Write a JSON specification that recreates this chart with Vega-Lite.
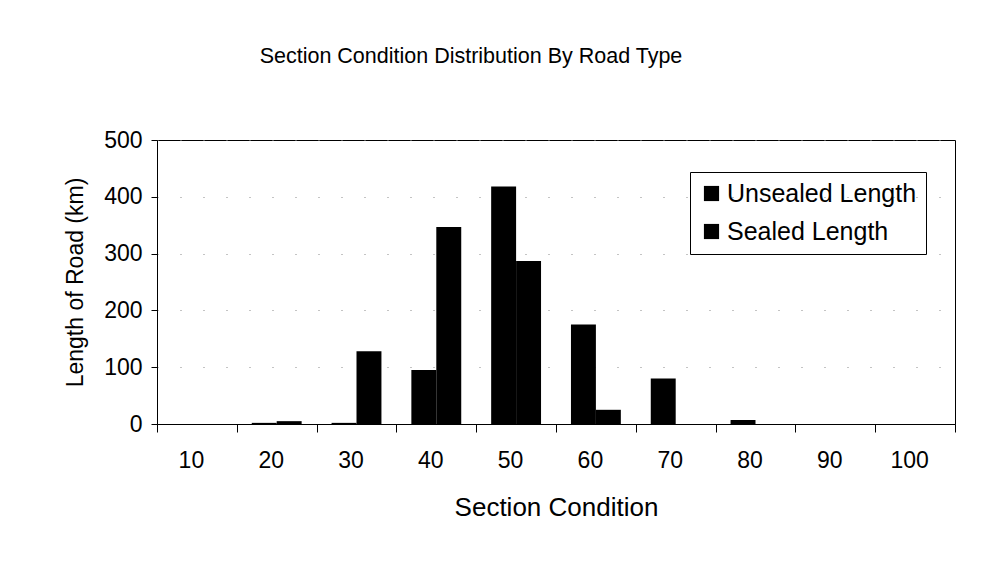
{
  "$schema": "https://vega.github.io/schema/vega-lite/v6.json",
  "width": 798,
  "height": 284,
  "autosize": {"type": "none"},
  "padding": {"left": 157, "top": 140, "right": 34, "bottom": 145},
  "background": "white",
  "title": {
    "text": "Section Condition Distribution By Road Type",
    "font": "Liberation Sans",
    "fontSize": 21.5,
    "fontWeight": "normal",
    "color": "black",
    "anchor": "middle",
    "dx": -85,
    "offset": 62
  },
  "data": {
    "values": [
      {"cond": "10", "type": "Unsealed Length", "len": 0},
      {"cond": "10", "type": "Sealed Length", "len": 0},
      {"cond": "20", "type": "Unsealed Length", "len": 2},
      {"cond": "20", "type": "Sealed Length", "len": 5},
      {"cond": "30", "type": "Unsealed Length", "len": 2},
      {"cond": "30", "type": "Sealed Length", "len": 128},
      {"cond": "40", "type": "Unsealed Length", "len": 95},
      {"cond": "40", "type": "Sealed Length", "len": 347},
      {"cond": "50", "type": "Unsealed Length", "len": 418},
      {"cond": "50", "type": "Sealed Length", "len": 287},
      {"cond": "60", "type": "Unsealed Length", "len": 175},
      {"cond": "60", "type": "Sealed Length", "len": 25},
      {"cond": "70", "type": "Unsealed Length", "len": 80},
      {"cond": "70", "type": "Sealed Length", "len": 0},
      {"cond": "80", "type": "Unsealed Length", "len": 7},
      {"cond": "80", "type": "Sealed Length", "len": 0},
      {"cond": "90", "type": "Unsealed Length", "len": 0},
      {"cond": "90", "type": "Sealed Length", "len": 0},
      {"cond": "100", "type": "Unsealed Length", "len": 0},
      {"cond": "100", "type": "Sealed Length", "len": 0}
    ]
  },
  "mark": {"type": "bar", "color": "black"},
  "encoding": {
    "x": {
      "field": "cond",
      "type": "nominal",
      "sort": null,
      "scale": {"paddingInner": 0, "paddingOuter": 0},
      "axis": {
        "title": "Section Condition",
        "titleFontSize": 26,
        "labelFontSize": 23,
        "labelAngle": 0,
        "labelOffset": -6,
        "tickBand": "extent",
        "tickSize": 8,
        "labelPadding": 17,
        "titlePadding": 22,
        "domainColor": "black",
        "tickColor": "black"
      }
    },
    "xOffset": {
      "field": "type",
      "sort": ["Unsealed Length", "Sealed Length"],
      "scale": {"paddingInner": 0, "paddingOuter": 0.6}
    },
    "y": {
      "field": "len",
      "type": "quantitative",
      "scale": {"domain": [0, 500]},
      "axis": {
        "title": "Length of Road (km)",
        "titleFontSize": 23,
        "labelFontSize": 23,
        "values": [0, 100, 200, 300, 400, 500],
        "tickSize": 6,
        "labelPadding": 9,
        "titlePadding": 16,
        "grid": true,
        "gridDash": [1, 22],
        "gridColor": "#888888",
        "domainColor": "black",
        "tickColor": "black"
      }
    },
    "color": {
      "field": "type",
      "type": "nominal",
      "sort": ["Unsealed Length", "Sealed Length"],
      "scale": {"range": ["black", "black"]},
      "legend": {
        "title": null,
        "orient": "none",
        "legendX": 533,
        "legendY": 32,
        "symbolType": "square",
        "symbolSize": 230,
        "symbolStrokeWidth": 0,
        "labelFontSize": 25,
        "labelLimit": 400,
        "labelFont": "Liberation Sans",
        "labelColor": "black",
        "strokeColor": "black",
        "padding": 9,
        "rowPadding": 12,
        "labelOffset": 3
      }
    }
  },
  "config": {
    "font": "Liberation Sans",
    "view": {"stroke": "black", "strokeWidth": 1},
    "axis": {
      "titleFontWeight": "normal",
      "labelColor": "black",
      "titleColor": "black",
      "labelFont": "Liberation Sans",
      "titleFont": "Liberation Sans"
    }
  }
}
